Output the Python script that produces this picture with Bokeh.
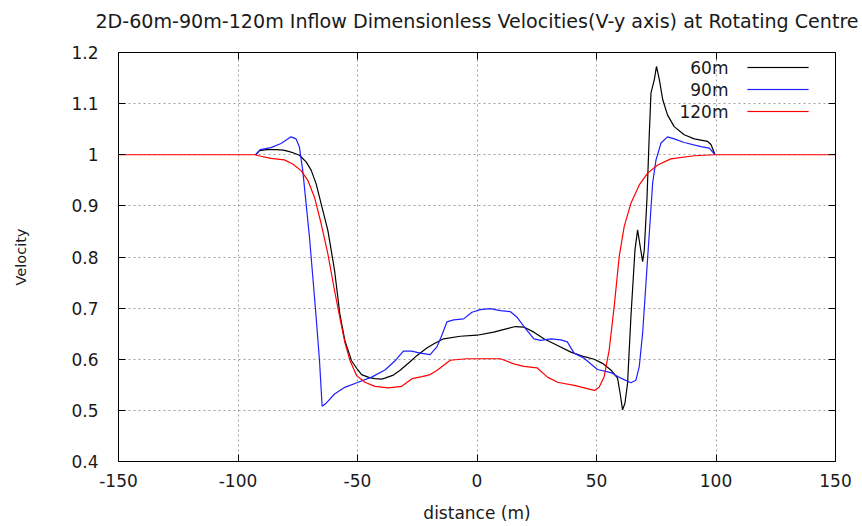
from bokeh.plotting import figure
from bokeh.models import (Range1d, LinearAxis, FixedTicker, CustomJSTickFormatter,
                          Label, BoxAnnotation)
from bokeh.embed import file_html
from bokeh.resources import INLINE

# ---------------- data ----------------
x_60 = [-92.6, -91, -88, -84, -81, -78.5, -76.4, -74.3, -71.5, -69.4, -67.3, -65.2,
        -62.4, -59.6, -57.4, -55.3, -52.5, -50, -48.3, -45, -42.7, -40, -38.5, -35,
        -32.3, -28, -25.2, -21, -18.2, -14, -7, 0, 7, 12.6, 16.1, 19.6, 23.8, 28,
        33.7, 39.3, 44.9, 49, 52.5, 56, 58.8, 59.9, 60.9, 61.9, 63, 64.4, 66.1, 67.2,
        68.3, 69.3, 70, 71.1, 72.1, 72.8, 74.2, 75.1, 76.3, 77.7, 79.7, 82.5, 86.7,
        90.9, 96.5, 97.9, 99.6]
y_60 = [1.0, 1.008, 1.01, 1.01, 1.009, 1.006, 1.003, 0.999, 0.986, 0.97, 0.943, 0.904,
        0.852, 0.774, 0.689, 0.637, 0.597, 0.58, 0.570, 0.564, 0.562, 0.561, 0.563, 0.569,
        0.578, 0.595, 0.607, 0.622, 0.630, 0.640, 0.645, 0.647, 0.653, 0.660, 0.664, 0.663,
        0.653, 0.640, 0.627, 0.614, 0.605, 0.600, 0.592, 0.579, 0.563, 0.533, 0.501, 0.514,
        0.553, 0.683, 0.814, 0.853, 0.820, 0.791, 0.814, 0.912, 1.042, 1.121, 1.147, 1.173,
        1.147, 1.108, 1.078, 1.055, 1.039, 1.031, 1.026, 1.020, 1.0]

x_90 = [-92.6, -90.7, -86.2, -82, -77.8, -75.7, -74.3, -72.9, -71.5, -70.1, -68.7, -67.3,
        -65.9, -64.8, -63.1, -59.6, -55.3, -49.7, -44.1, -38.5, -34.3, -30.8, -27.3, -23.8,
        -19.6, -16.8, -14.7, -12.6, -9.8, -5.6, -2.1, 1.4, 5.6, 9.8, 14, 16.8, 20.3, 23.8,
        26.6, 30.9, 35.1, 37.8, 40.6, 44.8, 50.4, 56, 60.2, 64.4, 66.5, 67.9, 69.3, 70.7,
        72.1, 73.5, 74.9, 77, 79.7, 82.5, 86.7, 93.7, 97.2, 99.6]
y_90 = [1.0, 1.01, 1.014, 1.022, 1.035, 1.031, 1.015, 0.969, 0.904, 0.839, 0.761, 0.682,
        0.597, 0.508, 0.514, 0.532, 0.545, 0.555, 0.565, 0.579, 0.597, 0.616, 0.616, 0.612,
        0.609, 0.624, 0.647, 0.673, 0.677, 0.679, 0.692, 0.697, 0.699, 0.695, 0.693, 0.682,
        0.660, 0.640, 0.637, 0.640, 0.638, 0.634, 0.612, 0.602, 0.580, 0.574, 0.563, 0.554,
        0.559, 0.586, 0.651, 0.749, 0.847, 0.945, 0.990, 1.023, 1.035, 1.031, 1.024, 1.016,
        1.013, 1.0]

x_120 = [-150, -93, -90.4, -86.2, -80.6, -77.1, -73.6, -70.8, -68, -65.2, -62.4, -59.6,
         -57.4, -55.3, -53.1, -50.4, -46.9, -42.7, -37.1, -31.5, -27.2, -23, -19.6, -16.8,
         -11.2, -4.2, 9.8, 15.4, 19.6, 25.2, 29.5, 33.7, 40.7, 49.1, 51.1, 53.2, 55.3, 57.4,
         59.5, 61.6, 64.4, 67.9, 71.4, 75.6, 81.1, 90.9, 99.3, 150]
y_120 = [1.0, 1.0, 0.997, 0.993, 0.990, 0.982, 0.969, 0.950, 0.917, 0.865, 0.806, 0.734,
         0.682, 0.633, 0.597, 0.568, 0.555, 0.547, 0.544, 0.547, 0.562, 0.566, 0.570, 0.578,
         0.598, 0.601, 0.601, 0.591, 0.586, 0.583, 0.565, 0.555, 0.549, 0.539, 0.545, 0.566,
         0.618, 0.703, 0.801, 0.860, 0.905, 0.941, 0.964, 0.980, 0.992, 0.998, 1.0, 1.0]

series_names = ["60m", "90m", "120m"]
series_colors = ["#000000", "#1f1fff", "#ff0000"]

x_ticks = [-150, -100, -50, 0, 50, 100, 150]
y_ticks = [0.4, 0.5, 0.6, 0.7, 0.8, 0.9, 1.0, 1.1, 1.2]

title_text = "2D-60m-90m-120m Inflow Dimensionless Velocities(V-y axis) at Rotating Centre"
x_label = "distance (m)"
y_label = "Velocity"

# ---------------- figure ----------------
FONT = "DejaVu Sans"
TXT = "#1a1a1a"

p = figure(width=862, height=526, x_range=Range1d(-150, 150), y_range=Range1d(0.4, 1.2),
           output_backend="svg", toolbar_location=None,
           min_border_left=118, min_border_right=27, min_border_top=52, min_border_bottom=65)
p.background_fill_color = "white"
p.border_fill_color = "white"
p.outline_line_color = "black"
p.outline_line_width = 1

num_fmt = CustomJSTickFormatter(code="return (Math.round(tick*10)/10).toString();")
blank_fmt = CustomJSTickFormatter(code="return '';")

for ax, ticks in ((p.xaxis[0], x_ticks), (p.yaxis[0], y_ticks)):
    ax.ticker = FixedTicker(ticks=ticks)
    ax.formatter = num_fmt
    ax.axis_line_color = None
    ax.major_tick_in = 7
    ax.major_tick_out = 0
    ax.minor_tick_line_color = None
    ax.major_tick_line_color = "black"
    ax.major_label_text_font = FONT
    ax.major_label_text_font_size = "17px"
    ax.major_label_text_color = TXT
    ax.axis_label_text_font = FONT
    ax.axis_label_text_font_style = "normal"
    ax.axis_label_text_color = TXT

p.xaxis[0].axis_label = x_label
p.xaxis[0].axis_label_text_font_size = "17px"
p.xaxis[0].major_label_standoff = 12
p.xaxis[0].axis_label_standoff = 13

p.yaxis[0].axis_label = y_label
p.yaxis[0].axis_label_text_font_size = "14.5px"
p.yaxis[0].major_label_standoff = 20
p.yaxis[0].axis_label_standoff = 39

# mirrored ticks on top (its axis label carries the chart title) and right
top = LinearAxis(ticker=FixedTicker(ticks=x_ticks), formatter=blank_fmt,
                 axis_line_color=None, major_tick_in=7, major_tick_out=0,
                 minor_tick_line_color=None, major_label_text_font_size="0px",
                 major_label_standoff=0,
                 axis_label=title_text, axis_label_standoff=20,
                 axis_label_text_font=FONT, axis_label_text_font_size="19.1px",
                 axis_label_text_font_style="normal", axis_label_text_color=TXT)
right = LinearAxis(ticker=FixedTicker(ticks=y_ticks), formatter=blank_fmt,
                   axis_line_color=None, major_tick_in=7, major_tick_out=0,
                   minor_tick_line_color=None, major_label_text_font_size="0px",
                   major_label_standoff=0)
p.add_layout(top, "above")
p.add_layout(right, "right")

for g in (p.xgrid[0], p.ygrid[0]):
    g.grid_line_color = "#a0a0a0"
    g.grid_line_dash = "2 3"
    g.grid_line_width = 1
p.xgrid[0].ticker = FixedTicker(ticks=x_ticks[1:-1])
p.ygrid[0].ticker = FixedTicker(ticks=y_ticks[1:-1])

for xs, ys, c in ((x_60, y_60, series_colors[0]), (x_90, y_90, series_colors[1]),
                  (x_120, y_120, series_colors[2])):
    p.line(xs, ys, line_color=c, line_width=1.2)

# gnuplot-style key: sample lines first, then right-aligned labels to their left
key_rows = [394 - 22 * i for i in range(len(series_names))]
for ky, c in zip(key_rows, series_colors):
    p.add_layout(BoxAnnotation(left=629, right=690, bottom=ky - 0.6, top=ky + 0.6,
                               left_units="screen", right_units="screen",
                               bottom_units="screen", top_units="screen",
                               fill_color=c, fill_alpha=1.0, line_color=c,
                               line_width=0.5, level="overlay"))
for ky, name in zip(key_rows, series_names):
    p.add_layout(Label(x=610, y=ky, x_units="screen", y_units="screen",
                       text=name, text_align="right", text_baseline="middle",
                       text_font=FONT, text_font_size="17px", text_color=TXT))

open("out.html", "w").write(file_html(p, INLINE))
